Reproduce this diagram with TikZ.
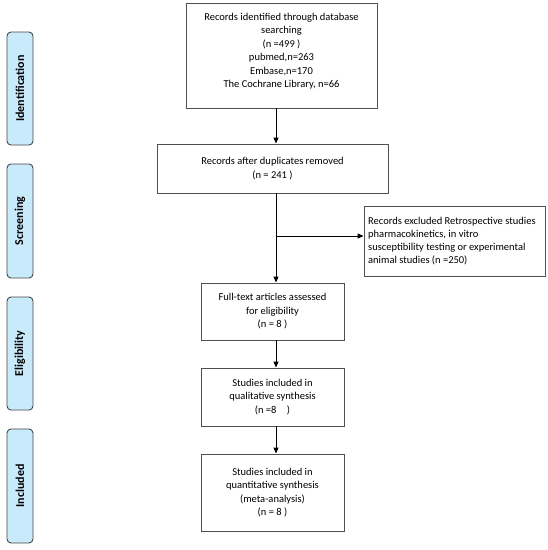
\documentclass[tikz,border=0pt]{standalone}
\usepackage{fontspec}
\setmainfont{Carlito}
\usetikzlibrary{arrows.meta}
\definecolor{sidefill}{RGB}{200,234,250}
\definecolor{sideedge}{RGB}{70,70,70}
\definecolor{boxedge}{RGB}{80,80,80}
\tikzset{
  flowbox/.style={draw=boxedge, line width=0.9pt, align=center, inner sep=0pt,
    font=\fontsize{10.5}{13.5}\selectfont},
  sidebox/.style={draw=sideedge, fill=sidefill, line width=0.9pt, rounded corners=4pt,
    inner sep=0pt},
  sidetext/.style={rotate=90, font=\fontsize{12}{14}\selectfont\bfseries},
  conn/.style={line width=0.9pt, -{Triangle[length=6pt,width=5pt]}},
}
\begin{document}
\begin{tikzpicture}[x=1pt,y=-1pt]
\useasboundingbox (0,0) rectangle (548,550);
% side labels
\node[sidebox, minimum width=26pt, minimum height=113pt] (s1) at (20,88.5) {};
\node[sidetext] (l1) at (s1.center) {Identification};
\node[sidebox, minimum width=26pt, minimum height=114pt] (s2) at (20,221) {};
\node[sidetext] (l2) at (s2.center) {Screening};
\node[sidebox, minimum width=26pt, minimum height=113pt] (s3) at (20,353.5) {};
\node[sidetext] (l3) at (s3.center) {Eligibility};
\node[sidebox, minimum width=26pt, minimum height=114pt] (s4) at (20,486) {};
\node[sidetext] (l4) at (s4.center) {Included};
% flow boxes
\node[flowbox, minimum width=191pt, minimum height=105pt] (b1) at (281.5,55.5) {};
\node[align=center, font=\fontsize{10.5}{13.5}\selectfont, anchor=north, inner sep=0pt] (t1) at (281.5,13) {Records identified through database\\searching\\(n =499 )\\pubmed,n=263\\Embase,n=170\\The Cochrane Library, n=66};
\node[flowbox, minimum width=231pt, minimum height=49pt] (b2) at (272.5,168.5) {Records after duplicates removed\\(n = 241 )};
\node[flowbox, minimum width=181pt, minimum height=70pt] (b3) at (454.5,241) {};
\node[align=left, font=\fontsize{10.5}{13}\selectfont, anchor=west, inner sep=0pt] (t3) at (368,241.5) {Records excluded Retrospective studies\\pharmacokinetics, in vitro\\susceptibility testing or experimental\\animal studies (n =250)};
\node[flowbox, minimum width=143pt, minimum height=57pt] (b4) at (272.5,311.5) {Full-text articles assessed\\for eligibility\\(n = 8 )};
\node[flowbox, minimum width=143pt, minimum height=58pt] (b5) at (272.5,397) {Studies included in\\qualitative synthesis\\(n =8\quad)};
\node[flowbox, minimum width=143pt, minimum height=77pt] (b6) at (272.5,492.5) {Studies included in\\quantitative synthesis\\(meta-analysis)\\(n = 8 )};
% connectors
\coordinate (c1) at (276,108);
\coordinate (c2) at (276,193);
\coordinate (br) at (276,236);
\coordinate (c4) at (276,340);
\coordinate (c5) at (276,426);
\draw[conn] (c1) -- (c1 |- b2.north);
\draw[conn] (c2) -- (c2 |- b4.north);
\draw[conn] (br) -- (br -| b3.west);
\draw[conn] (c4) -- (c4 |- b5.north);
\draw[conn] (c5) -- (c5 |- b6.north);
\end{tikzpicture}
\end{document}
